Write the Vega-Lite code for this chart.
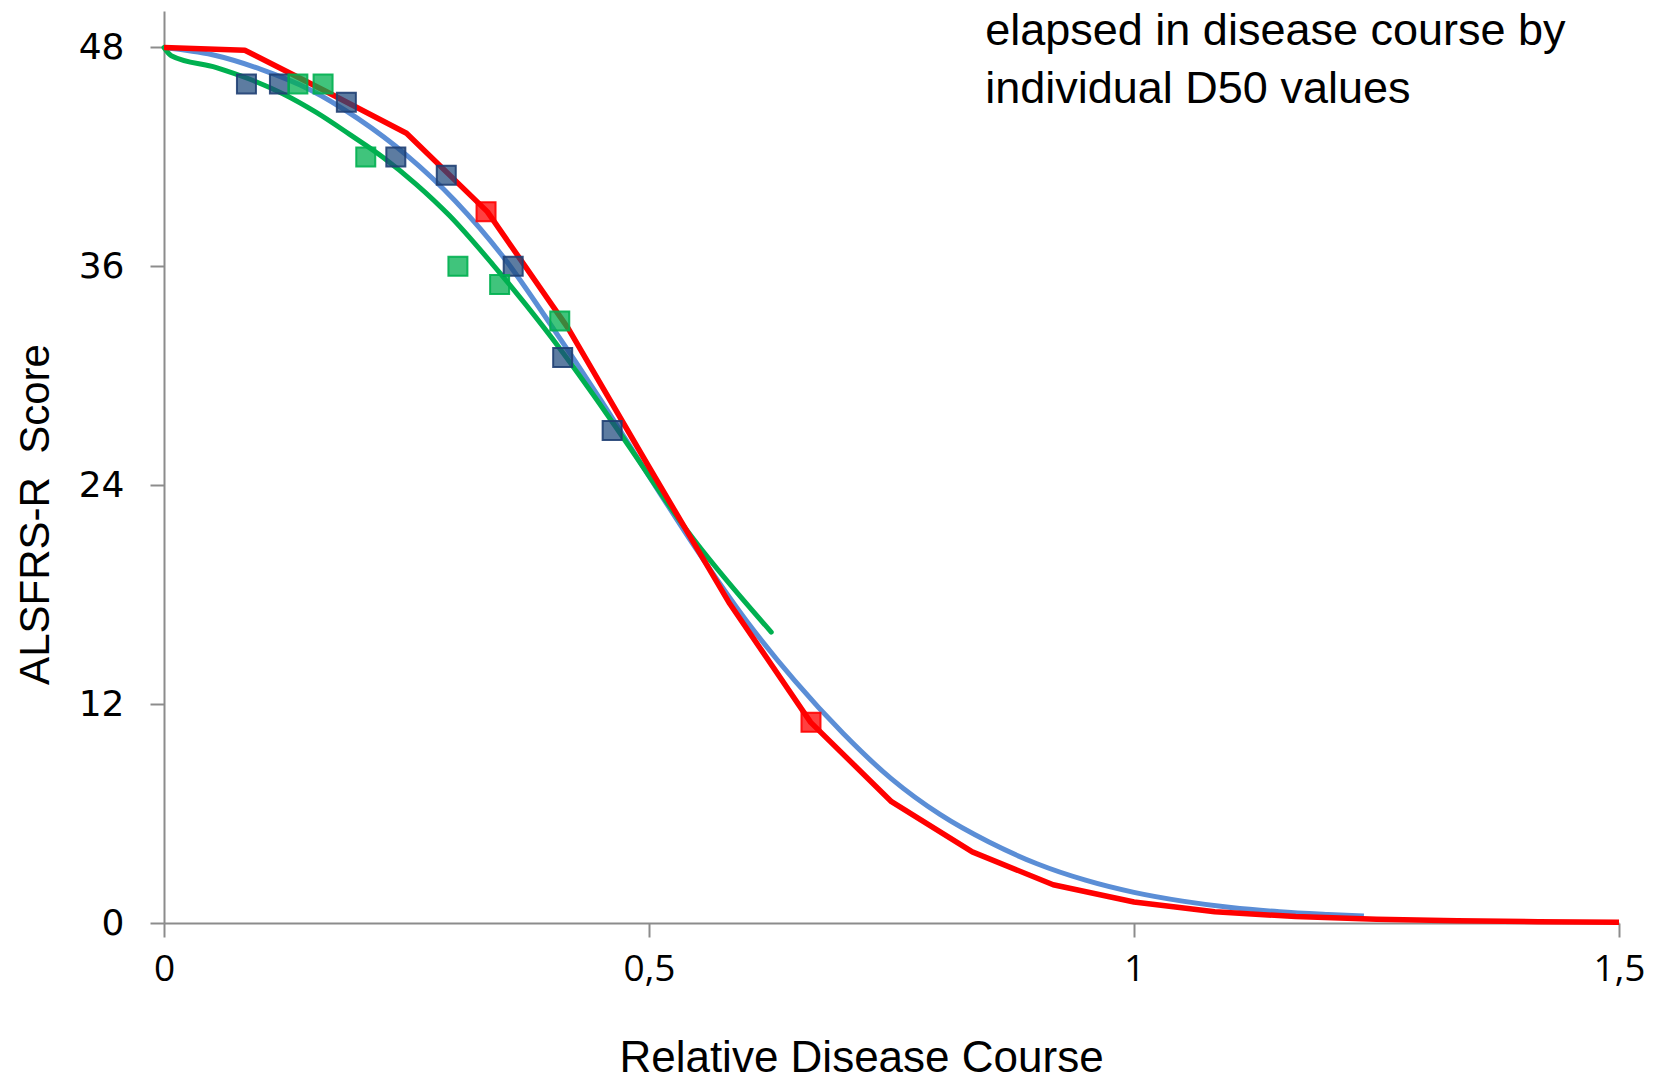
{
  "$schema": "https://vega.github.io/schema/vega-lite/v6.json",
  "width": 1455,
  "height": 912,
  "autosize": "none",
  "padding": {"left": 164, "top": 11, "right": 44, "bottom": 157},
  "background": "white",
  "config": {"view": {"stroke": null}},
  "datasets": {
    "curves": [
      {"series": "blue", "x": 0, "y": 48.0},
      {"series": "blue", "x": 0.05, "y": 47.6},
      {"series": "blue", "x": 0.1, "y": 46.8},
      {"series": "blue", "x": 0.15, "y": 45.7},
      {"series": "blue", "x": 0.2, "y": 44.1},
      {"series": "blue", "x": 0.25, "y": 42.1},
      {"series": "blue", "x": 0.3, "y": 39.6},
      {"series": "blue", "x": 0.35, "y": 36.5},
      {"series": "blue", "x": 0.4, "y": 32.7},
      {"series": "blue", "x": 0.45, "y": 28.7},
      {"series": "blue", "x": 0.5, "y": 24.5},
      {"series": "blue", "x": 0.55, "y": 20.4},
      {"series": "blue", "x": 0.6, "y": 16.6},
      {"series": "blue", "x": 0.65, "y": 13.3},
      {"series": "blue", "x": 0.7, "y": 10.4},
      {"series": "blue", "x": 0.75, "y": 7.9},
      {"series": "blue", "x": 0.8, "y": 5.95},
      {"series": "blue", "x": 0.85, "y": 4.45},
      {"series": "blue", "x": 0.9, "y": 3.25},
      {"series": "blue", "x": 0.95, "y": 2.35},
      {"series": "blue", "x": 1.0, "y": 1.68},
      {"series": "blue", "x": 1.05, "y": 1.2},
      {"series": "blue", "x": 1.1, "y": 0.85},
      {"series": "blue", "x": 1.15, "y": 0.62},
      {"series": "blue", "x": 1.2, "y": 0.47},
      {"series": "blue", "x": 1.237, "y": 0.38},
      {"series": "green", "x": 0, "y": 48.0},
      {"series": "green", "x": 0.0075, "y": 47.55},
      {"series": "green", "x": 0.054, "y": 46.9},
      {"series": "green", "x": 0.088, "y": 46.27},
      {"series": "green", "x": 0.123, "y": 45.45},
      {"series": "green", "x": 0.157, "y": 44.44},
      {"series": "green", "x": 0.191, "y": 43.25},
      {"series": "green", "x": 0.226, "y": 41.97},
      {"series": "green", "x": 0.26, "y": 40.5},
      {"series": "green", "x": 0.294, "y": 38.8},
      {"series": "green", "x": 0.339, "y": 36.1},
      {"series": "green", "x": 0.373, "y": 33.9},
      {"series": "green", "x": 0.408, "y": 31.5},
      {"series": "green", "x": 0.442, "y": 29.0},
      {"series": "green", "x": 0.476, "y": 26.4},
      {"series": "green", "x": 0.538, "y": 21.6},
      {"series": "green", "x": 0.626, "y": 15.95},
      {"series": "red", "x": 0, "y": 48.0},
      {"series": "red", "x": 0.0833, "y": 47.85},
      {"series": "red", "x": 0.1667, "y": 45.6},
      {"series": "red", "x": 0.25, "y": 43.3},
      {"series": "red", "x": 0.3333, "y": 39.0},
      {"series": "red", "x": 0.4167, "y": 32.6},
      {"series": "red", "x": 0.5, "y": 25.0},
      {"series": "red", "x": 0.5833, "y": 17.5},
      {"series": "red", "x": 0.6667, "y": 11.0},
      {"series": "red", "x": 0.75, "y": 6.65},
      {"series": "red", "x": 0.8333, "y": 3.9},
      {"series": "red", "x": 0.9167, "y": 2.1},
      {"series": "red", "x": 1.0, "y": 1.15},
      {"series": "red", "x": 1.0833, "y": 0.62},
      {"series": "red", "x": 1.1667, "y": 0.35},
      {"series": "red", "x": 1.25, "y": 0.2},
      {"series": "red", "x": 1.3333, "y": 0.12},
      {"series": "red", "x": 1.4167, "y": 0.07},
      {"series": "red", "x": 1.5, "y": 0.04}
    ],
    "points": [
      {"group": "blue", "x": 0.085, "y": 46.0},
      {"group": "blue", "x": 0.119, "y": 46.0},
      {"group": "blue", "x": 0.188, "y": 45.0},
      {"group": "blue", "x": 0.239, "y": 42.0},
      {"group": "blue", "x": 0.291, "y": 41.0},
      {"group": "blue", "x": 0.36, "y": 36.0},
      {"group": "blue", "x": 0.411, "y": 31.0},
      {"group": "blue", "x": 0.462, "y": 27.0},
      {"group": "green", "x": 0.138, "y": 46.0},
      {"group": "green", "x": 0.164, "y": 46.0},
      {"group": "green", "x": 0.208, "y": 42.0},
      {"group": "green", "x": 0.303, "y": 36.0},
      {"group": "green", "x": 0.346, "y": 35.0},
      {"group": "green", "x": 0.408, "y": 33.0},
      {"group": "red", "x": 0.332, "y": 39.0},
      {"group": "red", "x": 0.667, "y": 11.0}
    ],
    "note": [
      {"label": "elapsed in disease course by", "line": 1},
      {"label": "individual D50 values", "line": 2}
    ]
  },
  "layer": [
    {
      "data": {"name": "curves"},
      "transform": [{"filter": "datum.series === 'blue'"}],
      "mark": {"type": "line", "color": "#5B8ED6", "strokeWidth": 5, "strokeJoin": "round", "interpolate": "monotone"},
      "encoding": {
        "x": {
          "field": "x", "type": "quantitative",
          "scale": {"domain": [0, 1.5], "nice": false, "zero": false},
          "axis": {
            "title": "Relative Disease Course",
            "values": [0, 0.5, 1, 1.5],
            "labelExpr": "replace(format(datum.value, ''), '.', ',')",
            "grid": false,
            "domainColor": "#8c8c8c", "domainWidth": 2,
            "tickColor": "#8c8c8c", "tickWidth": 2, "tickSize": 14,
            "labelFont": "Open Sans", "labelFontSize": 37, "labelColor": "#000000",
            "labelPadding": 14, "labelFlush": false,
            "titleFont": "Liberation Sans", "titleFontSize": 44, "titleFontWeight": "normal", "titleColor": "#000000",
            "titleAnchor": "start", "titleAlign": "center", "titleBaseline": "middle",
            "titleX": 697, "titleY": 135
          }
        },
        "y": {
          "field": "y", "type": "quantitative",
          "scale": {"domain": [0, 50], "nice": false},
          "axis": {
            "title": "ALSFRS-R\u00a0 Score",
            "values": [0, 12, 24, 36, 48],
            "grid": false,
            "domainColor": "#8c8c8c", "domainWidth": 2,
            "tickColor": "#8c8c8c", "tickWidth": 2, "tickSize": 14,
            "labelFont": "DejaVu Sans", "labelFontSize": 36, "labelColor": "#000000",
            "labelPadding": 26,
            "titleFont": "Liberation Sans", "titleFontSize": 42, "titleFontWeight": "normal", "titleColor": "#000000",
            "titleAnchor": "start", "titleAlign": "center", "titleBaseline": "middle", "titleAngle": -90,
            "titleX": -129, "titleY": 503
          }
        }
      }
    },
    {
      "data": {"name": "curves"},
      "transform": [{"filter": "datum.series === 'green'"}],
      "mark": {"type": "line", "color": "#00B050", "strokeWidth": 5, "strokeJoin": "round", "strokeCap": "round", "interpolate": "monotone"},
      "encoding": {"x": {"field": "x", "type": "quantitative"}, "y": {"field": "y", "type": "quantitative"}}
    },
    {
      "data": {"name": "curves"},
      "transform": [{"filter": "datum.series === 'red'"}],
      "mark": {"type": "line", "color": "#FF0000", "strokeWidth": 5.5, "strokeJoin": "round"},
      "encoding": {"x": {"field": "x", "type": "quantitative"}, "y": {"field": "y", "type": "quantitative"}}
    },
    {
      "data": {"name": "points"},
      "transform": [{"filter": "datum.group === 'blue'"}],
      "mark": {"type": "square", "size": 361, "filled": true, "color": "#1F497D", "fillOpacity": 0.72, "stroke": "#1F3F73", "strokeWidth": 2, "strokeOpacity": 0.9},
      "encoding": {"x": {"field": "x", "type": "quantitative"}, "y": {"field": "y", "type": "quantitative"}}
    },
    {
      "data": {"name": "points"},
      "transform": [{"filter": "datum.group === 'green'"}],
      "mark": {"type": "square", "size": 361, "filled": true, "color": "#00B050", "fillOpacity": 0.75, "stroke": "#00B050", "strokeWidth": 2, "strokeOpacity": 0.9},
      "encoding": {"x": {"field": "x", "type": "quantitative"}, "y": {"field": "y", "type": "quantitative"}}
    },
    {
      "data": {"name": "points"},
      "transform": [{"filter": "datum.group === 'red'"}],
      "mark": {"type": "square", "size": 361, "filled": true, "color": "#FF0000", "fillOpacity": 0.75, "stroke": "#FF0000", "strokeWidth": 2, "strokeOpacity": 0.9},
      "encoding": {"x": {"field": "x", "type": "quantitative"}, "y": {"field": "y", "type": "quantitative"}}
    },
    {
      "data": {"name": "note"},
      "transform": [{"filter": "datum.line === 1"}],
      "mark": {"type": "text", "font": "Liberation Sans", "fontSize": 45, "align": "left", "baseline": "middle", "color": "#000000"},
      "encoding": {
        "x": {"datum": 0.8466, "type": "quantitative"},
        "y": {"datum": 48.9, "type": "quantitative"},
        "text": {"field": "label", "type": "nominal"}
      }
    },
    {
      "data": {"name": "note"},
      "transform": [{"filter": "datum.line === 2"}],
      "mark": {"type": "text", "font": "Liberation Sans", "fontSize": 45, "align": "left", "baseline": "middle", "color": "#000000"},
      "encoding": {
        "x": {"datum": 0.8466, "type": "quantitative"},
        "y": {"datum": 45.7, "type": "quantitative"},
        "text": {"field": "label", "type": "nominal"}
      }
    }
  ]
}
